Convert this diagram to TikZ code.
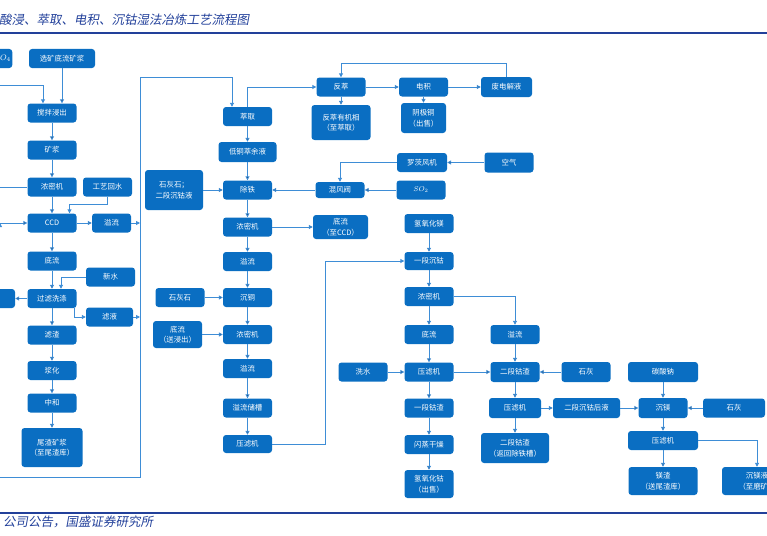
\documentclass[tikz,border=0pt]{standalone}
\usepackage{fontspec}
\setmainfont{Noto Sans CJK SC}
\newfontfamily\titlefont[FakeSlant=0.18]{Noto Sans CJK SC}
\usepackage{xcolor}
\usepackage{tikz}
\usetikzlibrary{arrows.meta}
\definecolor{boxblue}{HTML}{0A6EC2}
\definecolor{linkblue}{HTML}{3E8DD6}
\definecolor{navy}{HTML}{22409A}

\begin{document}
\begin{tikzpicture}[x=1pt,y=-1pt,
	blk/.style={fill=boxblue,text=white,rounded corners=3pt,inner sep=1pt,
		minimum width=49pt,minimum height=19pt,align=center,
		font=\fontsize{7.4}{10.5}\selectfont},
	lnk/.style={draw=linkblue,line width=0.9pt,-{Triangle[length=4pt,width=4pt]}}]
	\useasboundingbox (0,0) rectangle (767,535);
	\clip (0,0) rectangle (767,535);
	%
	\node[anchor=west,inner sep=0pt,text=navy,font=\titlefont\fontsize{12.5}{14}\selectfont] (title) at (-1,20) {酸浸、萃取、电积、沉钴湿法冶炼工艺流程图};
	\draw[navy,line width=1.4pt] (0,33) -- (767,33);
	\draw[navy,line width=1.4pt] (0,513) -- (767,513);
	\node[anchor=west,inner sep=0pt,text=navy,font=\titlefont\fontsize{12.5}{14}\selectfont] (source) at (3,522) {公司公告，国盛证券研究所};
	%
	% leaching / CCD
	\node[blk,anchor=east,minimum width=0pt,inner xsep=1.5pt,font=\fontsize{8}{10}\selectfont] (acid) at (12.5,58.5) {$H_2SO_4$};
	\node[blk,minimum width=66pt] (ore) at (62,58.5) {选矿底流矿浆};
	\node[blk] (leach) at (52,113) {搅拌浸出};
	\node[blk] (orepulp) at (52,150) {矿浆};
	\node[blk] (thickA) at (52,187) {浓密机};
	\node[blk] (water) at (107.5,187) {工艺回水};
	\node[blk] (ccd) at (52,223) {CCD};
	\node[blk,minimum width=39pt] (overA) at (111.5,223) {溢流};
	\node[blk] (underA) at (52,261) {底流};
	\node[blk] (fresh) at (110.5,277) {新水};
	\node[blk] (wash) at (52,298.5) {过滤洗涤};
	\node[blk,minimum width=50pt] (cut) at (-10,298.5) {};
	\node[blk,minimum width=47pt] (filtrate) at (109.5,317) {滤液};
	\node[blk] (residue) at (52,335) {滤渣};
	\node[blk] (repulp) at (52,370.5) {浆化};
	\node[blk] (neut) at (52,403) {中和};
	\node[blk,minimum width=61pt,minimum height=39pt] (tail) at (52,447.5) {尾渣矿浆\\（至尾渣库）};
	%
	% extraction / copper
	\node[blk] (sx) at (247.5,116.5) {萃取};
	\node[blk,minimum width=58pt,minimum height=20pt] (raff) at (247.5,152) {低铜萃余液};
	\node[blk,minimum width=58pt,minimum height=40pt] (limeA) at (174,190) {石灰石；\\二段沉钴液};
	\node[blk] (fe) at (247.5,190) {除铁};
	\node[blk,minimum height=16pt] (mix) at (340,190) {混风阀};
	\node[blk] (thickB) at (247.5,227) {浓密机};
	\node[blk,minimum width=55pt,minimum height=24pt] (underB) at (340.5,227) {底流\\（至CCD）};
	\node[blk] (overB) at (247.5,261.5) {溢流};
	\node[blk] (limeB) at (180,297.5) {石灰石};
	\node[blk] (cu) at (247.5,297.5) {沉铜};
	\node[blk,minimum height=27pt] (underC) at (177.5,334.5) {底流\\（送浸出）};
	\node[blk] (thickC) at (247.5,334.5) {浓密机};
	\node[blk] (overC) at (247.5,368.5) {溢流};
	\node[blk] (tank) at (247.5,408) {溢流储槽};
	\node[blk,minimum height=18pt] (pressA) at (247.5,444) {压滤机};
	%
	\node[blk] (strip) at (341,87) {反萃};
	\node[blk] (ew) at (423.5,87) {电积};
	\node[blk,minimum width=51pt,minimum height=20pt] (spent) at (506.5,87) {废电解液};
	\node[blk,minimum width=59pt,minimum height=35pt] (org) at (341,122.5) {反萃有机相\\（至萃取）};
	\node[blk,minimum width=45pt,minimum height=30pt] (cath) at (423.5,118) {阴极铜\\（出售）};
	\node[blk,minimum width=50pt] (fan) at (422,162.5) {罗茨风机};
	\node[blk,minimum height=20pt] (air) at (509,162.5) {空气};
	\node[blk] (so2) at (421,190) {$SO_2$};
	%
	% cobalt / magnesium
	\node[blk] (mgo) at (429,223.5) {氢氧化镁};
	\node[blk,minimum height=18pt] (coA) at (429,261) {一段沉钴};
	\node[blk] (thickD) at (429,296.5) {浓密机};
	\node[blk] (underD) at (429,334.5) {底流};
	\node[blk] (overD) at (515,334.5) {溢流};
	\node[blk] (rinse) at (363,372) {洗水};
	\node[blk] (pressB) at (429,372) {压滤机};
	\node[blk,minimum height=20pt] (coresB) at (515,372) {二段钴渣};
	\node[blk] (coresA) at (429,408) {一段钴渣};
	\node[blk,minimum width=52pt,minimum height=20pt] (pressC) at (515,408) {压滤机};
	\node[blk] (dry) at (429,444.5) {闪蒸干燥};
	\node[blk,minimum height=28pt] (coh) at (429,484) {氢氧化钴\\（出售）};
	\node[blk,minimum width=68pt,minimum height=30pt] (back) at (515,448) {二段钴渣\\（返回除铁槽）};
	\node[blk,minimum height=20pt] (limeC) at (586,372) {石灰};
	\node[blk,minimum width=70pt,minimum height=20pt] (soda) at (663,372) {碳酸钠};
	\node[blk,minimum width=67pt,minimum height=20pt] (post) at (586.5,408) {二段沉钴后液};
	\node[blk,minimum height=20pt] (mg) at (663,408) {沉镁};
	\node[blk,minimum width=62pt] (limeD) at (734,408) {石灰};
	\node[blk,minimum width=70pt] (pressD) at (663,440.5) {压滤机};
	\node[blk,minimum width=69pt,minimum height=28pt] (mgres) at (663,481) {镁渣\\（送尾渣库）};
	\node[blk,minimum width=70pt,minimum height=28pt] (mgliq) at (757,481) {沉镁液\\（至磨矿）};
	%
	\coordinate (inA) at (0,85);
	\coordinate (inB) at (0,187);
	\coordinate (inC) at (0,223);
	\coordinate (frameB) at (0,477);
	\coordinate (frameC) at (140,477);
	\coordinate (frameT) at (140,77);
	\coordinate (turn) at (325,261);
	%
	\path[lnk]
	(ore) edge (ore |- leach.north)
	(leach) edge (orepulp)
	(orepulp) edge (thickA)
	(thickA) edge (ccd)
	(ccd) edge (underA)
	(underA) edge (wash)
	(wash) edge (residue)
	(residue) edge (repulp)
	(repulp) edge (neut)
	(neut) edge (tail)
	(ccd) edge (overA)
	(wash) edge (cut)
	(inC) edge (ccd);
	\draw[draw=linkblue,line width=0.9pt] (inB) -- (thickA);
	\draw[lnk] (inA) -| ([xshift=-9pt]leach.north);
	\draw[lnk] (water) -- ++(0,17) -| ([xshift=17.5pt]ccd.north);
	\draw[lnk] (fresh.west) -| ([xshift=9pt]wash.north);
	\draw[lnk] ([xshift=22pt]wash.south) |- (filtrate.west);
	\draw[lnk] (overA) -- (overA -| frameT);
	\draw[lnk] (filtrate) -- (filtrate -| frameT);
	\draw[lnk] (frameB) -- (frameC) -- (frameT) -| ([xshift=-15.5pt]sx.north);
	%
	\path[lnk]
	(sx) edge (raff)
	(raff) edge (fe)
	(fe) edge (thickB)
	(thickB) edge (overB)
	(overB) edge (cu)
	(cu) edge (thickC)
	(thickC) edge (overC)
	(overC) edge (tank)
	(tank) edge (pressA)
	(limeA) edge (fe)
	(mix) edge (fe)
	(thickB) edge (underB)
	(limeB) edge (cu)
	(underC) edge (thickC)
	(strip) edge (ew)
	(ew) edge (spent)
	(strip) edge (org)
	(ew) edge (cath)
	(air) edge (fan)
	(so2) edge (mix);
	\draw[lnk] (sx.north) |- (strip.west);
	\draw[lnk] (spent) -- ++(0,-24) -| (strip);
	\draw[lnk] (fan) -| (mix);
	\draw[lnk] (pressA) -| (turn) -- (coA);
	%
	\path[lnk]
	(mgo) edge (coA)
	(coA) edge (thickD)
	(thickD) edge (underD)
	(underD) edge (pressB)
	(pressB) edge (coresA)
	(coresA) edge (dry)
	(dry) edge (coh)
	(overD) edge (coresB)
	(coresB) edge (pressC)
	(pressC) edge (back)
	(rinse) edge (pressB)
	(pressB) edge (coresB)
	(limeC) edge (coresB)
	(pressC) edge (post)
	(post) edge (mg)
	(limeD) edge (mg)
	(soda) edge (mg)
	(mg) edge (pressD)
	(pressD) edge (mgres);
	\draw[lnk] (thickD) -| (overD);
	\draw[lnk] (pressD) -| (mgliq);
\end{tikzpicture}
\end{document}
